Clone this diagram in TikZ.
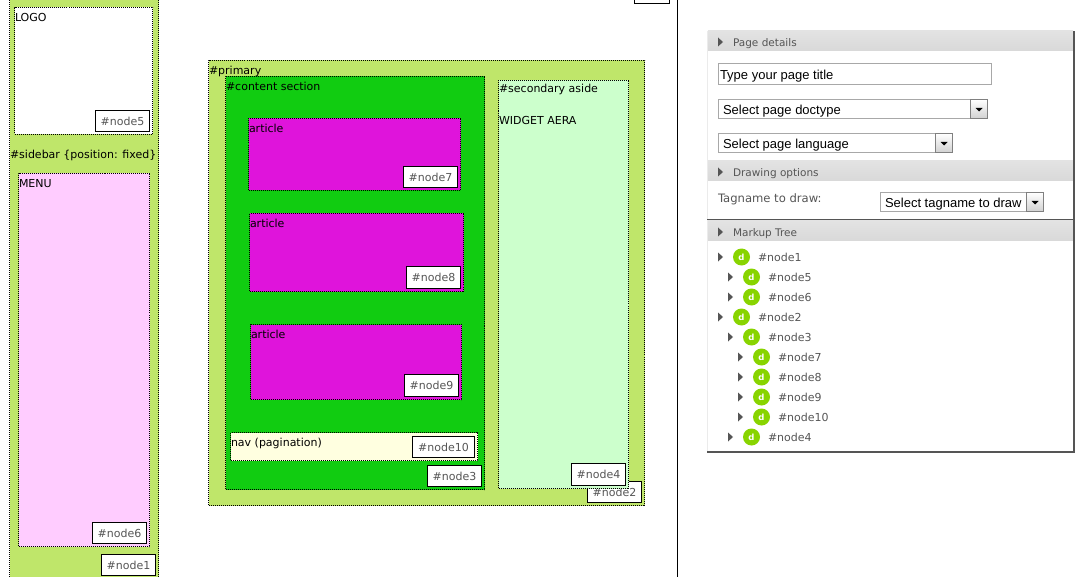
\documentclass[tikz,border=0pt]{standalone}
\usepackage{fontspec}
\setmainfont{DejaVu Sans}
\newfontfamily\arialf{Liberation Sans}
\definecolor{lime}{HTML}{BFE66A}
\definecolor{contentgreen}{HTML}{11CC11}
\definecolor{magentafill}{HTML}{DF14DB}
\definecolor{pinkfill}{HTML}{FFCCFF}
\definecolor{mintfill}{HTML}{CCFFCC}
\definecolor{navfill}{HTML}{FFFFE0}
\definecolor{labelgrey}{HTML}{555555}
\definecolor{panelline}{HTML}{555555}
\definecolor{fieldline}{HTML}{A8A8A8}
\definecolor{dotgreen}{HTML}{88D400}
\tikzset{
  region/.style={draw=black,line width=1pt,dash pattern=on 1pt off 1pt,inner sep=0pt,outer sep=0pt},
  tagbox/.style={draw=black,line width=1.2pt,fill=white,inner sep=0pt,outer sep=0pt,text=labelgrey,font=\fontsize{11}{13}\selectfont},
  txt/.style={anchor=base west,inner sep=0pt,outer sep=0pt,text=black,font=\fontsize{11}{13}\selectfont},
  headtxt/.style={anchor=base west,inner sep=0pt,outer sep=0pt,text=labelgrey,font=\fontsize{10.5}{13}\selectfont},
  treetxt/.style={anchor=base west,inner sep=0pt,outer sep=0pt,text=labelgrey,font=\fontsize{11}{13}\selectfont},
  tagtxt/.style={anchor=base west,inner sep=0pt,outer sep=0pt,text=labelgrey,font=\fontsize{11.6}{13}\selectfont},
  fieldtxt/.style={anchor=base west,inner sep=0pt,outer sep=0pt,text=black,font=\arialf\fontsize{13}{16}\selectfont},
  header/.style={draw=none,top color=black!11,bottom color=black!15,inner sep=0pt,outer sep=0pt},
  field/.style={draw=fieldline,line width=1pt,fill=white,inner sep=0pt,outer sep=0pt},
  selbtn/.style={draw=black!50,line width=1.8pt,top color=white,bottom color=black!18,inner sep=0pt,outer sep=0pt},
  treedot/.style={circle,fill=dotgreen,minimum size=17pt,inner sep=0pt,outer sep=0pt,text=white,font=\bfseries\fontsize{8.5}{10}\selectfont},
  tri/.style={fill=labelgrey,draw=none}
}
% box by corners: name, style, x1, y1, x2, y2, text
\newcommand{\bx}[7][]{%
  \pgfmathsetmacro{\bw}{#5-#3}\pgfmathsetmacro{\bh}{#6-#4}%
  \node[#2,anchor=north west,minimum width=\bw pt,minimum height=\bh pt] (#7) at (#3,#4) {#1};}
\newcommand{\triangleat}[2]{\fill[tri] (#1,#2-4.5) -- (#1+5,#2) -- (#1,#2+4.5) -- cycle;}
\newcommand{\treerow}[5]{% name, tri x, y, level-x, label
  \triangleat{#2}{#3}
  \node[treedot] (#1) at (#4,#3) {d};
  \node[treetxt] (#1t) at (#4+16.5,#3+4) {#5};}
\newcommand{\arrowdown}[2]{\fill[black] (#1-3.5,#2-1.5) -- (#1+3.5,#2-1.5) -- (#1,#2+2) -- cycle;}
\begin{document}
\begin{tikzpicture}[x=1pt,y=-1pt]
\useasboundingbox (0,0) rectangle (1075,577);
\fill[white] (0,0) rectangle (1075,577);
% sidebar
\begin{scope}
\clip (0,0) rectangle (1075,577);
\bx{region,fill=lime}{9.5}{-5}{158.5}{590}{sidebar}
\bx{region,fill=white}{14.5}{7.5}{152.5}{134.5}{logo}
\bx{region,fill=pinkfill}{18.5}{173.5}{149.5}{546.5}{menu}
\bx{tagbox}{634.5}{-20}{669.5}{3.5}{nodetop}
\end{scope}
\node[txt] (logot) at (15,22) {LOGO};
\node[txt] (sidebart) at (10,159) {\#sidebar \{position: fixed\}};
\node[txt] (menut) at (19,188) {MENU};
\bx[\#node5]{tagbox}{95.5}{110.5}{149.5}{131.5}{n5}
\bx[\#node6]{tagbox}{92.5}{522.5}{146.5}{543.5}{n6}
\bx[\#node1]{tagbox}{101.5}{554.5}{155.5}{575.5}{n1}
% primary
\bx{region,fill=lime}{208.5}{60.5}{644.5}{505.5}{primary}
\bx[\#node2]{tagbox}{587.5}{481.5}{641.5}{502.5}{n2}
\bx{region,fill=contentgreen}{225.5}{76.5}{484.5}{489.5}{content}
\bx{region,fill=mintfill}{498.5}{80.5}{628.5}{488.5}{secondary}
\bx{region,fill=magentafill}{248.5}{118.5}{460.5}{190.5}{art1}
\bx{region,fill=magentafill}{249.5}{213.5}{463.5}{291.5}{art2}
\bx{region,fill=magentafill}{250.5}{324.5}{461.5}{399.5}{art3}
\bx{region,fill=navfill}{230.5}{432.5}{477.5}{460.5}{nav}
\node[txt] (primt) at (209,75) {\#primary};
\node[txt] (contt) at (226,91) {\#content section};
\node[txt] (a1t) at (249,133) {article};
\node[txt] (a2t) at (250,228) {article};
\node[txt] (a3t) at (251,338) {article};
\node[txt] (navt) at (231,446) {nav (pagination)};
\node[txt] (sect) at (499,93) {\#secondary aside};
\node[txt] (widt) at (499,125) {WIDGET AERA};
\bx[\#node7]{tagbox}{403.5}{166.5}{457.5}{187.5}{n7}
\bx[\#node8]{tagbox}{406.5}{266.5}{460.5}{288.5}{n8}
\bx[\#node9]{tagbox}{404.5}{374.5}{458.5}{396.5}{n9}
\bx[\#node10]{tagbox}{412.5}{436.5}{474.5}{457.5}{n10}
\bx[\#node3]{tagbox}{427.5}{465.5}{481.5}{486.5}{n3}
\bx[\#node4]{tagbox}{571.5}{463.5}{625.5}{485.5}{n4}
% divider
\draw[black,line width=1pt] (677.5,0) -- (677.5,577);
% right panel
\draw[black!8,line width=1pt] (707.5,31) -- (707.5,452);
\bx{header}{708}{31}{1073}{51}{h1}
\bx{header}{708}{161}{1073}{181}{h2}
\bx{header}{708}{221}{1073}{241}{h3}
\fill[panelline] (1073,31) rectangle (1075,453);
\fill[panelline] (707,219) rectangle (1073,220.5);
\fill[panelline] (707,451) rectangle (1075,453);
\triangleat{718}{42}
\triangleat{718}{172}
\triangleat{718}{232}
\node[headtxt] (h1t) at (733,47) {Page details};
\node[headtxt] (h2t) at (733,177) {Drawing options};
\node[headtxt] (h3t) at (733,236.5) {Markup Tree};
% fields
\bx{field}{718.5}{63.5}{991.5}{84.5}{f1}
\node[fieldtxt] (f1t) at (720,79.5) {Type your page title};
\bx{field}{718.5}{99.5}{987.5}{118.5}{f2}
\bx{selbtn}{970.5}{99.5}{987.5}{118.5}{b2}
\arrowdown{979}{109.5}
\node[fieldtxt] (f2t) at (723,114.5) {Select page doctype};
\bx{field}{718.5}{133.5}{952.5}{152.5}{f3}
\bx{selbtn}{935.5}{133.5}{952.5}{152.5}{b3}
\arrowdown{944}{143.5}
\node[fieldtxt] (f3t) at (723,148.5) {Select page language};
\node[tagtxt] (tagt) at (718,203) {Tagname to draw:};
\bx{field}{880.5}{192.5}{1043.5}{211.5}{f4}
\bx{selbtn}{1026.5}{192.5}{1043.5}{211.5}{b4}
\arrowdown{1035}{202.5}
\node[fieldtxt] (f4t) at (885,207.5) {Select tagname to draw};
% tree
\treerow{t1}{718}{257}{741.5}{\#node1}
\treerow{t5}{728}{277}{751.5}{\#node5}
\treerow{t6}{728}{297}{751.5}{\#node6}
\treerow{t2}{718}{317}{741.5}{\#node2}
\treerow{t3}{728}{337}{751.5}{\#node3}
\treerow{t7}{738}{357}{761.5}{\#node7}
\treerow{t8}{738}{377}{761.5}{\#node8}
\treerow{t9}{738}{397}{761.5}{\#node9}
\treerow{t10}{738}{417}{761.5}{\#node10}
\treerow{t4}{728}{437}{751.5}{\#node4}
\end{tikzpicture}
\end{document}
